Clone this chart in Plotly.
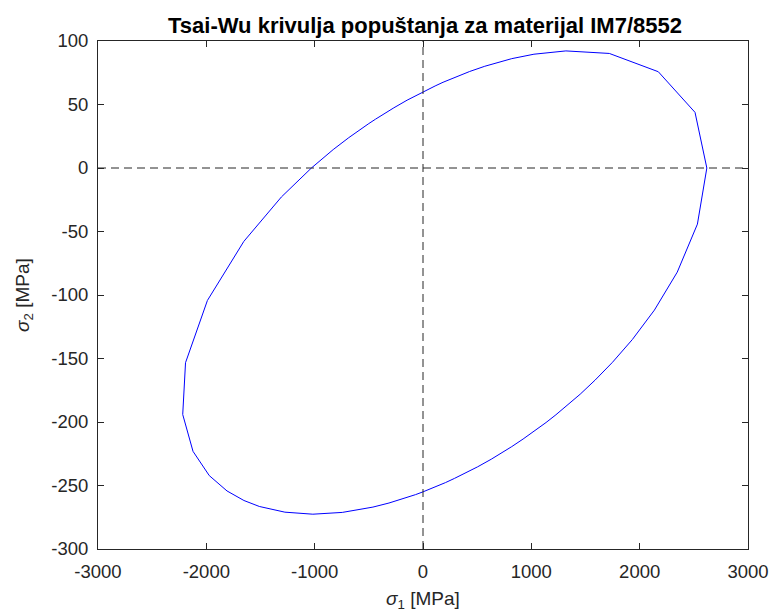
import plotly.graph_objects as go

# Tsai-Wu failure envelope points (sigma_1, sigma_2) in MPa
sigma1 = [2620, 2511, 2172, 1720, 1319, 1024, 819, 675, 570, 431, 344, 263, 185, 112, 63, 36, 0,
          -34, -97, -147, -269, -352, -439, -500, -580, -685, -829, -1030,
          -1307, -1654, -1990, -2192, -2218, -2123, -1973, -1809, -1653, -1511, -1275, -1017,
          -745, -577, -462, -314, -219, -150, -69, 0, 68, 144, 208, 291, 414, 504, 630, 733,
          819, 924, 1057, 1136, 1227, 1331, 1451, 1589, 1749, 1932, 2136, 2347, 2533, 2620]
sigma2 = [0, 43.8, 75.8, 90.2, 92.2, 89.6, 86.1, 82.8, 80.1, 76.0, 73.2, 70.4, 67.5, 64.6, 62.6, 61.5, 60,
          58.5, 55.7, 53.4, 47.4, 43.2, 38.4, 35.0, 30.4, 23.9, 14.5, 0,
          -22.8, -57.8, -104.3, -153.3, -194.1, -223.1, -242.2, -254.3, -261.8, -266.5, -271.0, -272.6,
          -271.2, -269.0, -267.0, -263.8, -261.4, -259.5, -257.2, -255, -252.8, -250.1, -247.7, -244.4,
          -239.3, -235.3, -229.3, -224.0, -219.4, -213.4, -205.4, -200.4, -194.3, -187.1, -178.1,
          -167.0, -153.0, -135.1, -111.9, -82.0, -44.2, 0]

x_ticks = [-3000, -2000, -1000, 0, 1000, 2000, 3000]
y_ticks = [-300, -250, -200, -150, -100, -50, 0, 50, 100]
x_range = [-3000, 3000]
y_range = [-300, 100]

axis_color = "#262626"
font_family = "Liberation Sans, Arial, sans-serif"

W, H = 773, 616

fig = go.Figure()
fig.add_trace(go.Scatter(x=sigma1, y=sigma2, mode="lines",
                         line=dict(color="#0000FF", width=1), showlegend=False,
                         hoverinfo="skip"))

fig.add_hline(y=0, line=dict(color=axis_color, width=1, dash="8px,5px"))
fig.add_vline(x=0, line=dict(color=axis_color, width=1, dash="8px,5px"))

axis_common = dict(showgrid=False, zeroline=False, showline=True, linecolor=axis_color,
                   linewidth=1, mirror="ticks", ticks="inside", ticklen=6, tickwidth=1,
                   automargin=False,
                   tickcolor=axis_color, tickfont=dict(family=font_family, size=18.5, color=axis_color))

fig.update_layout(
    width=W, height=H,
    paper_bgcolor="white", plot_bgcolor="white",
    margin=dict(l=98, r=25, t=41, b=67),
    title=dict(text="<b>Tsai-Wu krivulja popuštanja za materijal IM7/8552</b>",
               x=425 / W, xanchor="center", y=1 - 25 / H, yanchor="middle",
               font=dict(family=font_family, size=22, color="black")),
    xaxis=dict(range=x_range, tickvals=x_ticks, ticktext=[str(v) for v in x_ticks],
               ticklabelstandoff=6,
               title=dict(text="<i>σ</i><sub>1</sub> [MPa]", standoff=10,
                          font=dict(family=font_family, size=19, color=axis_color)),
               **axis_common),
    yaxis=dict(range=y_range, tickvals=y_ticks, ticktext=[str(v) for v in y_ticks],
               ticklabelstandoff=5,
               title=dict(text="<i>σ</i><sub>2</sub> [MPa]", standoff=16,
                          font=dict(family=font_family, size=19, color=axis_color)),
               **axis_common),
)

fig.write_html("out.html", config={"displayModeBar": False},
               post_script="document.body.style.margin='0';document.body.style.overflow='hidden';")
